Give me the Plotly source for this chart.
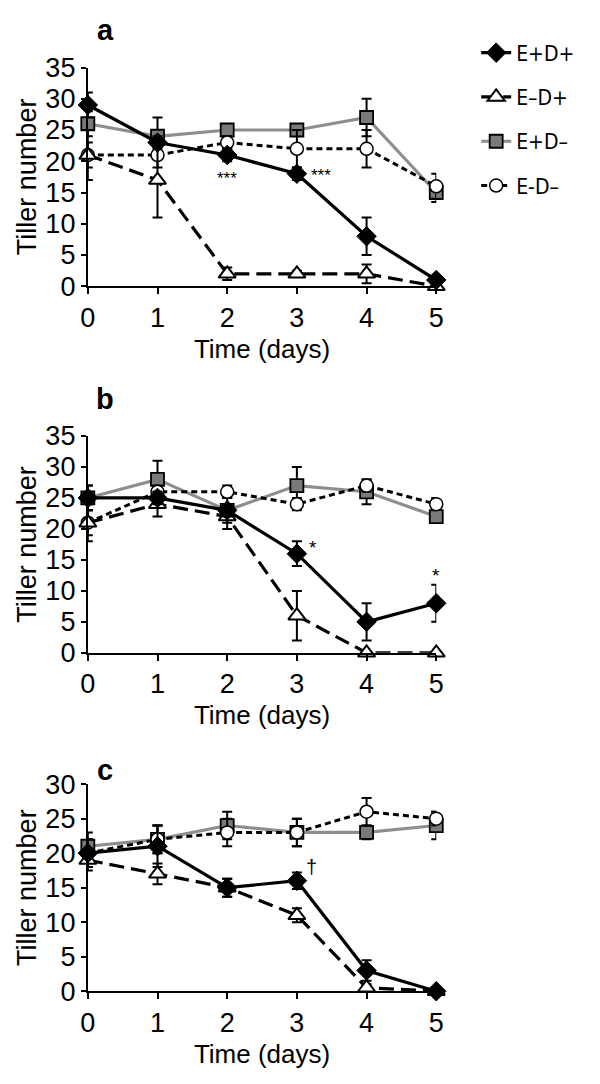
import plotly.graph_objects as go

days = [0, 1, 2, 3, 4, 5]
series_names = ["E+D+", "E\u2013D+", "E+D\u2013", "E-D\u2013"]

# Panel a
a_EpDp = [29, 23, 21, 18, 8, 1]
a_EpDp_err = [2, 1, 1, 1, 3, 0.5]
a_EmDp = [21, 17, 2, 2, 2, 0]
a_EmDp_err = [4, 6, 1, 0.5, 1.5, 0.3]
a_EpDm = [26, 24, 25, 25, 27, 15]
a_EpDm_err = [2, 3, 0.5, 0.5, 3, 1.5]
a_EmDm = [21, 21, 23, 22, 22, 16]
a_EmDm_err = [2, 2, 1, 3, 3, 2]

# Panel b
b_EpDp = [25, 25, 23, 16, 5, 8]
b_EpDp_err = [2, 1, 1, 2, 3, 3]
b_EmDp = [21, 24, 22, 6, 0, 0]
b_EmDp_err = [3, 2, 2, 4, 0, 0]
b_EpDm = [25, 28, 23, 27, 26, 22]
b_EpDm_err = [2, 3, 2, 3, 2, 1]
b_EmDm = [21, 26, 26, 24, 27, 24]
b_EmDm_err = [2, 1, 1, 1, 1, 1]

# Panel c
c_EpDp = [20, 21, 15, 16, 3, 0]
c_EpDp_err = [2, 3, 1.3, 1.2, 1.5, 0]
c_EmDp = [19, 17, 15, 11, 0.5, 0]
c_EmDp_err = [1.5, 1.5, 1.3, 1, 0.5, 0]
c_EpDm = [21, 22, 24, 23, 23, 24]
c_EpDm_err = [2, 2, 2, 2, 1, 2]
c_EmDm = [20, 22, 23, 23, 26, 25]
c_EmDm_err = [2, 2, 2, 2, 2, 1]

panels = [
    ("a", [a_EpDp, a_EmDp, a_EpDm, a_EmDm], [a_EpDp_err, a_EmDp_err, a_EpDm_err, a_EmDm_err], 35),
    ("b", [b_EpDp, b_EmDp, b_EpDm, b_EmDm], [b_EpDp_err, b_EmDp_err, b_EpDm_err, b_EmDm_err], 35),
    ("c", [c_EpDp, c_EmDp, c_EpDm, c_EmDm], [c_EpDp_err, c_EmDp_err, c_EpDm_err, c_EmDm_err], 30),
]

styles = [
    dict(line=dict(color="black", width=3.2),
         marker=dict(symbol="diamond", size=15, color="black", line=dict(color="black", width=1))),
    dict(line=dict(color="black", width=3.2, dash="15px,7px"),
         marker=dict(symbol="triangle-up", size=15, color="white", line=dict(color="black", width=2))),
    dict(line=dict(color="#8e8e8e", width=3.2),
         marker=dict(symbol="square", size=13, color="#7a7a7a", line=dict(color="black", width=1.8))),
    dict(line=dict(color="black", width=3, dash="6px,4px"),
         marker=dict(symbol="circle", size=13, color="white", line=dict(color="black", width=1.5))),
]
draw_order = [2, 3, 1, 0]

W, H = 600, 1084
x_left, x_right = 82, 440
y_pix = [(54, 279), (433, 656), (791, 1004)]

fig = go.Figure()
font_main = "Liberation Sans, Arial, Helvetica, sans-serif"

for pi, (lab, vals, errs, ymax) in enumerate(panels):
    sfx = "" if pi == 0 else str(pi + 1)
    for si in draw_order:
        st = styles[si]
        fig.add_trace(go.Scatter(
            x=days, y=vals[si], mode="lines+markers",
            name=series_names[si], legendrank=si + 1,
            legendgroup=series_names[si],
            showlegend=(pi == 0),
            line=st["line"], marker=st["marker"],
            error_y=dict(type="data", array=errs[si], visible=True,
                         color="black", thickness=2, width=5),
            cliponaxis=False,
            xaxis="x" + sfx, yaxis="y" + sfx,
        ))
    top, bot = y_pix[pi]
    axis_common = dict(showline=True, linecolor="black", linewidth=2,
                       ticks="outside", tickcolor="black", tickwidth=1.5,
                       showgrid=False, zeroline=False,
                       tickfont=dict(family=font_main, size=27, color="black"))
    fig.update_layout(**{
        "xaxis" + sfx: dict(domain=[x_left / W, x_right / W], range=[0, 5],
                            anchor="y" + sfx, tickvals=days, ticklen=6,
                            title=dict(text="Time (days)", standoff=8,
                                       font=dict(family=font_main, size=26, color="black")),
                            **axis_common),
        "yaxis" + sfx: dict(domain=[1 - bot / H, 1 - top / H], range=[0, ymax],
                            anchor="x" + sfx, dtick=5, ticklen=5,
                            title=dict(text="Tiller number", standoff=1,
                                       font=dict(family=font_main, size=27, color="black")),
                            **axis_common),
    })
    fig.add_annotation(text="<b>%s</b>" % lab, xref="paper", yref="paper",
                       x=100 / W, y=1 - ([15, 395, 777][pi]) / H,
                       xanchor="center", yanchor="middle", showarrow=False,
                       font=dict(family=font_main, size=29, color="black"))

# significance marks
sig_marks = [
    ("***", 2.0, 17.2, "", 17),
    ("***", 3.34, 17.8, "", 17),
    ("*", 3.23, 17.0, "2", 19),
    ("*", 5.0, 12.5, "2", 19),
    ("\u2020", 3.21, 18.0, "3", 20),
]
for txt, xv, yv, sfx, fs in sig_marks:
    fig.add_annotation(text=txt, x=xv, y=yv, xref="x" + sfx, yref="y" + sfx,
                       showarrow=False, font=dict(family=font_main, size=fs, color="black"))

fig.update_layout(
    width=W, height=H, margin=dict(l=0, r=0, t=0, b=0),
    paper_bgcolor="white", plot_bgcolor="white",
    showlegend=True,
    legend=dict(x=481 / W, y=1 - 18 / H, xanchor="left", yanchor="top",
                traceorder="grouped", tracegroupgap=14, itemwidth=30,
                font=dict(family="Liberation Sans Narrow, DejaVu Sans Condensed, Liberation Sans, Arial",
                          size=21, color="black"),
                bgcolor="rgba(0,0,0,0)"),
)

fig.write_html("out.html", config={"displayModeBar": False},
               post_script="document.body.style.margin='0';document.body.style.overflow='hidden';")
